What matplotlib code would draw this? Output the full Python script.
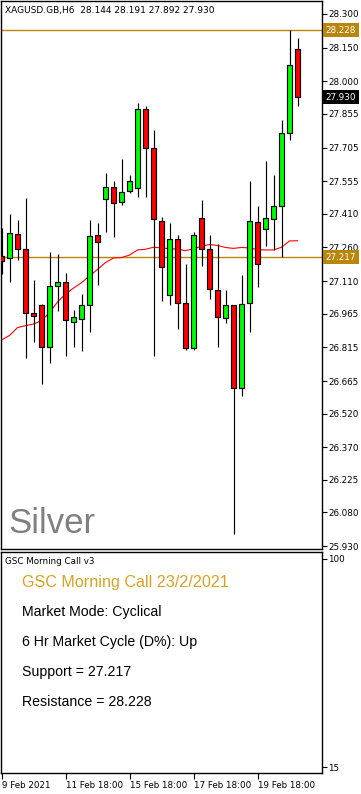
import matplotlib
matplotlib.use("Agg")
from matplotlib import pyplot as plt
from matplotlib.transforms import blended_transform_factory

# XAGUSD H6 candles
opens = [27.222, 27.213, 27.319, 27.252, 26.967, 27.004, 26.815, 27.090, 27.105, 26.929,
         26.943, 27.002, 27.314, 27.474, 27.528, 27.461, 27.510, 27.524, 27.875, 27.702,
         27.376, 27.047, 27.296, 27.011, 26.813, 27.390, 27.252, 27.069, 26.944, 27.002,
         26.632, 27.011, 27.372, 27.341, 27.385, 27.443, 27.769, 28.144]
highs = [27.347, 27.409, 27.382, 27.479, 27.115, 27.007, 27.238, 27.229, 27.145, 26.981,
         27.053, 27.382, 27.369, 27.593, 27.557, 27.654, 27.583, 27.902, 27.890, 27.783,
         27.394, 27.368, 27.314, 27.186, 27.329, 27.471, 27.315, 27.275, 27.070, 27.002,
         27.137, 27.556, 27.445, 27.645, 27.583, 27.828, 28.228, 28.191]
lows = [27.142, 27.107, 27.204, 26.766, 26.840, 26.650, 26.747, 26.978, 26.778, 26.818,
        26.799, 26.883, 27.093, 27.330, 27.308, 27.449, 27.504, 27.486, 27.483, 26.778,
        27.023, 27.002, 26.898, 26.803, 26.803, 27.177, 27.030, 26.815, 26.925, 25.982,
        26.600, 26.885, 27.085, 27.268, 27.247, 27.216, 27.740, 27.892]
closes = [27.200, 27.323, 27.252, 26.967, 26.956, 26.815, 27.087, 27.105, 26.935, 26.949,
          27.002, 27.310, 27.283, 27.528, 27.457, 27.506, 27.555, 27.875, 27.702, 27.385,
          27.172, 27.296, 27.011, 26.813, 27.314, 27.252, 27.074, 26.949, 27.002, 26.632,
          27.007, 27.376, 27.185, 27.390, 27.443, 27.769, 28.071, 27.930]
moving_avg = [26.848, 26.868, 26.903, 26.912, 26.919, 26.934, 26.970, 27.017, 27.053, 27.079,
              27.103, 27.133, 27.162, 27.193, 27.213, 27.215, 27.226, 27.249, 27.252, 27.261,
              27.258, 27.254, 27.253, 27.246, 27.254, 27.266, 27.273, 27.269, 27.260, 27.256,
              27.260, 27.258, 27.250, 27.249, 27.249, 27.261, 27.289, 27.290]

price_ticks = [28.300, 28.150, 28.000, 27.855, 27.705, 27.555, 27.410, 27.260, 27.110,
               26.965, 26.815, 26.665, 26.520, 26.370, 26.225, 26.080, 25.930]
date_ticks = [0, 8, 16, 24, 32]
date_labels = ["9 Feb 2021", "11 Feb 18:00", "15 Feb 18:00", "17 Feb 18:00", "19 Feb 18:00"]
support = 27.217
resistance = 28.228
header = "XAGUSD.GB,H6  28.144 28.191 27.892 27.930"
title = "GSC Morning Call 23/2/2021"
info_lines = ["Market Mode: Cyclical", "6 Hr Market Cycle (D%): Up",
              "Support = 27.217", "Resistance = 28.228"]
ind_ticks = [15, 100]

W, H = 361, 794
GOLD = "#B8860B"
SMALL = 6.3


def px_rect(left, top, right, bottom):
    return [left / W, 1 - bottom / H, (right - left) / W, (bottom - top) / H]


def fig_text(fig, x, y, s, **kw):
    fig.text(x / W, 1 - y / H, s, va="baseline", ha="left", **kw)


def draw_candles(ax):
    xs = list(range(len(opens)))
    ax.vlines(xs, lows, highs, color="black", lw=0.85, zorder=3)
    bottoms = [min(o, c) for o, c in zip(opens, closes)]
    heights = [max(abs(c - o), 0.0005) for o, c in zip(opens, closes)]
    colors = ["#00FF00" if c >= o else "#FF0000" for o, c in zip(opens, closes)]
    ax.bar(xs, heights, bottom=bottoms, width=0.55, color=colors,
           edgecolor="black", linewidth=0.85, zorder=4)
    ax.plot(xs, moving_avg, color="red", lw=0.8, zorder=2)


def price_label(ax, value, fc, tc):
    tr = blended_transform_factory(ax.transAxes, ax.transData)
    ax.text(1.0 + 4 / 321, value, f"{value:.3f}", transform=tr, ha="left", va="center",
            fontsize=SMALL, color=tc, zorder=10, clip_on=False,
            bbox=dict(boxstyle="square,pad=0.3", fc=fc, ec="none"))


def main():
    fig = plt.figure(figsize=(W / 100, H / 100), dpi=100)
    fig.patch.set_facecolor("white")

    ax = fig.add_axes(px_rect(0.5, 0.5, 321.5, 549))
    draw_candles(ax)
    ax.axhline(resistance, color=GOLD, lw=1, zorder=1)
    ax.axhline(support, color=GOLD, lw=1, zorder=1)
    ax.set_xlim(-0.125, 40.0)
    ax.set_ylim(25.917, 28.360)
    ax.set_xticks([])
    ax.yaxis.tick_right()
    ax.set_yticks(price_ticks)
    ax.set_yticklabels([f"{t:.3f}" for t in price_ticks])
    ax.tick_params(axis="y", length=3.5, width=0.8, pad=1.5, labelsize=SMALL)
    for sp in ax.spines.values():
        sp.set_linewidth(1.0)
    price_label(ax, resistance, GOLD, "white")
    price_label(ax, closes[-1], "black", "white")
    price_label(ax, support, GOLD, "white")

    fig_text(fig, 5, 12.5, header, fontsize=6.5, color="black")
    fig_text(fig, 8, 533, "Silver", fontsize=25, color="#808080", family="Liberation Sans")

    ax2 = fig.add_axes(px_rect(0.5, 552, 321.5, 773))
    ax2.set_xlim(-0.125, 40.0)
    ax2.set_ylim(12.55, 102.86)
    ax2.yaxis.tick_right()
    ax2.set_yticks(ind_ticks)
    ax2.tick_params(axis="y", length=3.5, width=0.8, pad=1.5, labelsize=SMALL)
    ax2.set_xticks(date_ticks)
    ax2.set_xticklabels(date_labels, ha="left")
    ax2.tick_params(axis="x", length=4, width=0.8, pad=1.5, labelsize=SMALL)
    for sp in ax2.spines.values():
        sp.set_linewidth(1.0)

    fig_text(fig, 5, 563.5, "GSC Morning Call v3", fontsize=SMALL, color="black")
    fig_text(fig, 21.7, 586.7, title, fontsize=11.6, color="#D9A21F", family="Liberation Sans")
    for i, line in enumerate(info_lines):
        fig_text(fig, 21.7, 615.7 + 30.2 * i, line, fontsize=10.2, color="black",
                 family="Liberation Sans")

    fig.savefig("out.png", dpi=100)


if __name__ == "__main__":
    main()
